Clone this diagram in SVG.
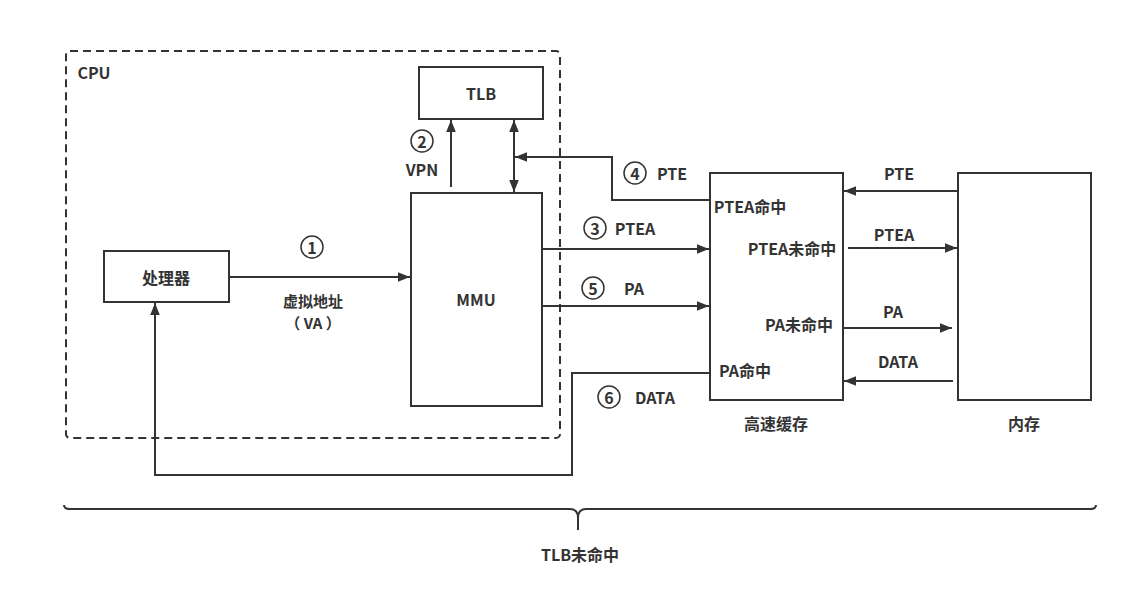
<svg xmlns="http://www.w3.org/2000/svg" width="1127" height="609" viewBox="0 0 1127 609">
<defs>
<marker id="ah" viewBox="0 0 10 10" refX="10" refY="5" markerWidth="12" markerHeight="12" markerUnits="userSpaceOnUse" orient="auto-start-reverse">
<path d="M0,1 L10,5 L0,9 Z" fill="#333"/>
</marker>
<style>
text{font-family:"Noto Sans CJK SC","Liberation Sans",sans-serif;font-size:16px;font-weight:bold;fill:#333;text-anchor:middle;dominant-baseline:central}
.s{font-size:15px}
.box{fill:#fff;stroke:#333;stroke-width:2}
.ln{fill:none;stroke:#333;stroke-width:2}
.c{fill:none;stroke:#333;stroke-width:1.5}
</style>
</defs>
<rect width="1127" height="609" fill="#fff"/>
<g id="cpu"><rect x="66" y="51" width="494" height="387" rx="4" fill="none" stroke="#333" stroke-width="2" stroke-dasharray="8,5"/><text x="94" y="72">CPU</text></g>
<g id="tlb"><rect class="box" x="419" y="67" width="124" height="52"/><text x="481" y="93">TLB</text></g>
<g id="mmu"><rect class="box" x="411" y="193" width="131" height="213"/><text x="476" y="299">MMU</text></g>
<g id="cpu-proc"><rect class="box" x="104" y="251" width="125" height="51"/><text x="166" y="277">处理器</text></g>
<g id="cache"><rect class="box" x="710" y="173" width="133" height="227"/><text x="776" y="423">高速缓存</text>
<text x="750" y="206">PTEA命中</text><text x="792" y="248">PTEA未命中</text><text x="799" y="324">PA未命中</text><text x="745" y="370">PA命中</text></g>
<g id="memory"><rect class="box" x="958" y="173" width="133" height="227"/><text x="1024" y="423">内存</text></g>
<g id="connectors">
<path class="ln" d="M229,277 H410" marker-end="url(#ah)"/>
<path class="ln" d="M451,187 V120" marker-end="url(#ah)"/>
<path class="ln" d="M514,120 V192" marker-start="url(#ah)" marker-end="url(#ah)"/>
<path class="ln" d="M710,200 H612 V157 H515" marker-end="url(#ah)"/>
<path class="ln" d="M542,249 H709" marker-end="url(#ah)"/>
<path class="ln" d="M542,306 H709" marker-end="url(#ah)"/>
<path class="ln" d="M710,373 H572 V475 H155 V303" marker-end="url(#ah)"/>
<path class="ln" d="M958,191 H844" marker-end="url(#ah)"/>
<path class="ln" d="M848,248 H957" marker-end="url(#ah)"/>
<path class="ln" d="M843,328 H952" marker-end="url(#ah)"/>
<path class="ln" d="M953,381 H844" marker-end="url(#ah)"/>
</g>
<g id="labels">
<circle class="c" cx="312" cy="247" r="11"/><text x="312" y="247">1</text>
<text class="s" x="313" y="300">虚拟地址</text><text class="s" x="313" y="322">（ VA ）</text>
<circle class="c" cx="422" cy="141" r="11"/><text x="422" y="141">2</text>
<text x="422" y="169">VPN</text>
<circle class="c" cx="595" cy="228" r="11"/><text x="595" y="228">3</text><text x="635" y="228">PTEA</text>
<circle class="c" cx="635" cy="173" r="11"/><text x="635" y="173">4</text><text x="672" y="173">PTE</text>
<circle class="c" cx="593" cy="288" r="11"/><text x="593" y="288">5</text><text x="634" y="288">PA</text>
<circle class="c" cx="609" cy="397" r="11"/><text x="609" y="397">6</text><text x="655" y="397">DATA</text>
<text x="899" y="173">PTE</text><text x="894" y="234">PTEA</text><text x="893" y="311">PA</text><text x="898" y="361">DATA</text>
</g>
<g id="brace">
<path class="ln" d="M64,505 Q64,509 70,509 H570 Q578,509 578,518 V530 M578,518 Q578,509 586,509 H1090 Q1096,509 1096,505" stroke-width="1.5"/>
<text x="580" y="554">TLB未命中</text>
</g>
</svg>
